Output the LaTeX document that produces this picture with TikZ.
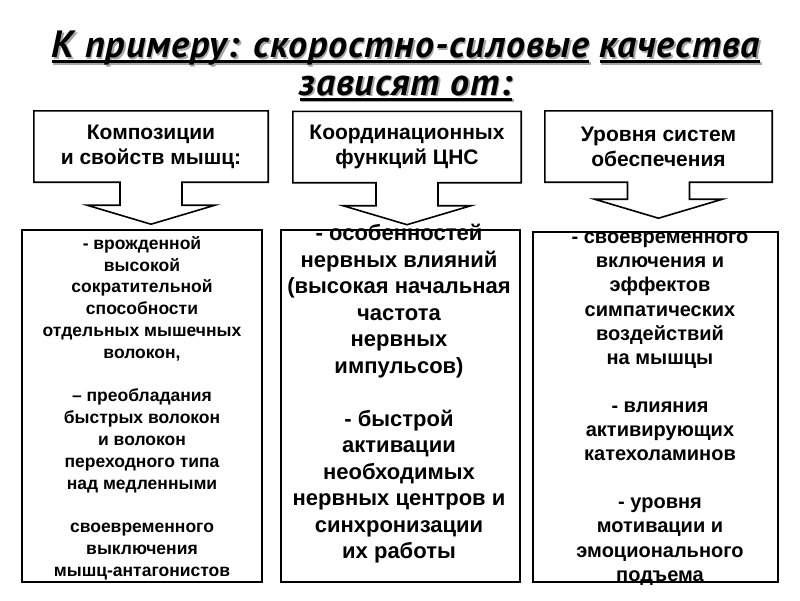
\documentclass[tikz,border=0pt]{standalone}
\usepackage{fontspec}
\setmainfont{Liberation Sans}
\newfontfamily\titlefont{PT Sans}[LetterSpace=2.5]
\usepackage{tikz}
\usetikzlibrary{positioning,calc}

\newcommand\ulined[1]{\setbox0\hbox{#1}\rlap{\rule[-0.15em]{\wd0}{0.08em}}\box0\relax}

\begin{document}
\begin{tikzpicture}[x=1pt,y=-1pt,
  headtext/.style={align=center, inner sep=0pt, minimum height=71pt,
    font=\bfseries\fontsize{21}{25}\selectfont},
  outline/.style={draw=black, line width=1.6pt, line join=miter},
  panel/.style={draw=black, line width=1.6pt, fill=white, inner sep=0pt},
  paneltext/.style={align=center, inner sep=0pt},
  titletext/.style={align=center, inner sep=0pt,
    font=\titlefont\bfseries\itshape\fontsize{38}{37.5}\selectfont}]
\useasboundingbox[fill=white] (0,0) rectangle (800,600);

% title, with its grey shadow
\node[titletext, text=black!35] (titleshadow) at (407.5,67.5) {\ulined{К примеру: скоростно-силовые} \ulined{качества}\\\ulined{зависят от:}};
\node[titletext] (title) at (406,66) {\ulined{К примеру: скоростно-силовые} \ulined{качества}\\\ulined{зависят от:}};

% the three factors
\node[headtext, minimum width=234pt] (compos) at (151,146.5) {Композиции\\и свойств мышц:};
\node[headtext, minimum width=228pt] (coord) at (407,147) {Координационных\\функций ЦНС};
\node[headtext, minimum width=227pt] (supp) at (658.5,146.5) {Уровня систем\\обеспечения};

\foreach \n/\s in {compos/23,coord/23,supp/17}
  \draw[outline] (\n.north west) -- (\n.north east) -- (\n.south east)
    -- ($(\n.south)+(31,0)$) -- ++(0,\s) -- ++(33,0) -- ($(\n.south)+(0,\s+19)$)
    -- ($(\n.south)+(-64,\s)$) -- ++(33,0) -- ($(\n.south)+(-31,0)$)
    -- (\n.south west) -- cycle;

% what each of them gives
\node[panel, minimum width=240pt, minimum height=352pt] (musc) at (142,406) {};
\node[panel, minimum width=239pt, minimum height=352pt] (nerve) at (400.5,406) {};
\node[panel, minimum width=245pt, minimum height=350pt] (sympa) at (655.5,407) {};

\node[paneltext, font=\bfseries\fontsize{17.5}{21.8}\selectfont] (musctext) at (142,408) {- врожденной\\высокой\\сократительной\\способности\\отдельных мышечных\\волокон,\\\mbox{}\\– преобладания\\быстрых волокон\\и волокон\\переходного типа\\над медленными\\\mbox{}\\своевременного\\выключения\\мышц-антагонистов};
\node[paneltext, font=\bfseries\fontsize{22}{26.5}\selectfont] (nervetext) at (399,394) {- особенностей\\нервных влияний\\(высокая начальная\\частота\\нервных\\импульсов)\\\mbox{}\\- быстрой\\активации\\необходимых\\нервных центров и\\синхронизации\\их работы};
\node[paneltext, font=\bfseries\fontsize{20}{24.1}\selectfont] (sympatext) at (660,409) {- своевременного\\включения и\\эффектов\\симпатических\\воздействий\\на мышцы\\\mbox{}\\- влияния\\активирующих\\катехоламинов\\\mbox{}\\- уровня\\мотивации и\\эмоционального\\подъема};
\end{tikzpicture}
\end{document}
